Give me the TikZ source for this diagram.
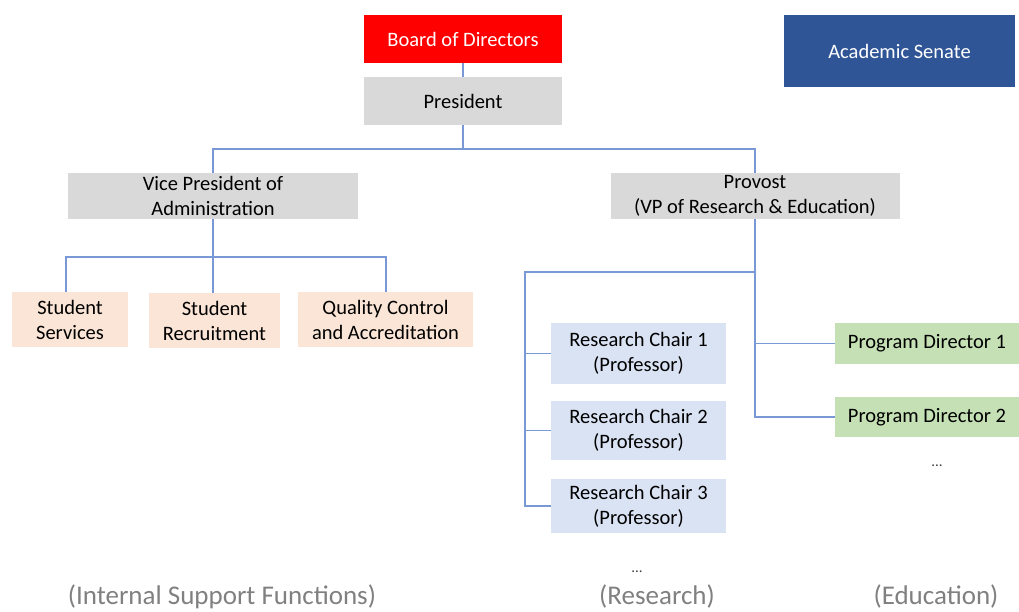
\documentclass[tikz,border=0pt]{standalone}
\usepackage{fontspec}
\setmainfont{Carlito}
\definecolor{lineblue}{RGB}{120,152,214}
\definecolor{bodred}{RGB}{255,0,0}
\definecolor{senblue}{RGB}{47,85,151}
\definecolor{boxgray}{RGB}{217,217,217}
\definecolor{peach}{RGB}{251,229,214}
\definecolor{lightblue}{RGB}{218,227,243}
\definecolor{lightgreen}{RGB}{197,224,180}
\definecolor{labelgray}{RGB}{128,128,128}
\begin{document}
\begin{tikzpicture}[x=1pt,y=-1pt,
  box/.style={draw=none,inner sep=0pt,align=center,font=\fontsize{20.5}{25}\selectfont,text=black},
  conn/.style={draw=lineblue,line width=1.6pt},
  grouplabel/.style={font=\fontsize{27}{30}\selectfont,text=labelgray,inner sep=0pt},
  dotsl/.style={font=\fontsize{15}{15}\selectfont,text=black!75,inner sep=0pt}]
\useasboundingbox (0,0) rectangle (1019,612);
% nodes
\node[box,fill=bodred,text=white,minimum width=198pt,minimum height=48pt] (bod) at (463,39) {Board of Directors};
\node[box,fill=senblue,text=white,minimum width=231pt,minimum height=72pt] (sen) at (899.5,51) {Academic Senate};
\node[box,fill=boxgray,minimum width=198pt,minimum height=48pt] (pres) at (463,101) {President};
\node[box,fill=boxgray,minimum width=290pt,minimum height=46pt] (vp) at (213,196) {Vice President of\\Administration};
\node[box,fill=boxgray,minimum width=289pt,minimum height=46pt] (prov) at (755,196) {Provost\\(VP of Research \& Education)};
\node[box,fill=peach,minimum width=116pt,minimum height=55pt] (ss) at (70,319.5) {Student\\Services};
\node[box,fill=peach,minimum width=131pt,minimum height=55pt] (sr) at (214.5,320.5) {Student\\Recruitment};
\node[box,fill=peach,minimum width=175pt,minimum height=55pt] (qc) at (385.5,319.5) {Quality Control\\and Accreditation};
\node[box,fill=lightblue,minimum width=175pt,minimum height=61pt] (rc1) at (638.5,353.5) {Research Chair 1\\(Professor)};
\node[box,fill=lightblue,minimum width=175pt,minimum height=59pt] (rc2) at (638.5,430.5) {Research Chair 2\\(Professor)};
\node[box,fill=lightblue,minimum width=175pt,minimum height=54pt] (rc3) at (638.5,506) {Research Chair 3\\(Professor)};
\node[box,fill=lightgreen,minimum width=184pt,minimum height=41pt] (pd1) at (927,343.5) {Program Director 1};
\node[box,fill=lightgreen,minimum width=184pt,minimum height=40pt] (pd2) at (927,417) {Program Director 2};
\node[dotsl] (dots1) at (937,466) {...};
\node[dotsl] (dots2) at (637,572) {...};
\node[grouplabel] (lab1) at (222,596.5) {(Internal Support Functions)};
\node[grouplabel] (lab2) at (657,596.5) {(Research)};
\node[grouplabel] (lab3) at (936,596.5) {(Education)};
% coordinates
\coordinate (pj) at (463,149);
\coordinate (vj) at (213,257);
\coordinate (prj) at (755,272);
\coordinate (lft) at (525,272);
% connectors
\draw[conn] (bod.south) -- (pres.north);
\draw[conn] (pres.south) -- (pj);
\draw[conn] (pj) -| (vp.north);
\draw[conn] (pj) -| (prov.north);
\draw[conn] (vp.south) -- (vj);
\draw[conn] (vj) -| ([xshift=-4pt]ss.north);
\draw[conn] (vj) -| ([xshift=0.5pt]qc.north);
\draw[conn] (vj) -- (sr.north -| vj);
\draw[conn] (prov.south) -- (prj) -- (lft) -- (lft |- rc3.west) -- (rc3.west);
\draw[conn] (lft |- rc1.west) -- (rc1.west);
\draw[conn] (lft |- rc2.west) -- (rc2.west);
\draw[conn] (prj) -- (prj |- pd2.west) -- (pd2.west);
\draw[conn] (prj |- pd1.west) -- (pd1.west);
\end{tikzpicture}
\end{document}
